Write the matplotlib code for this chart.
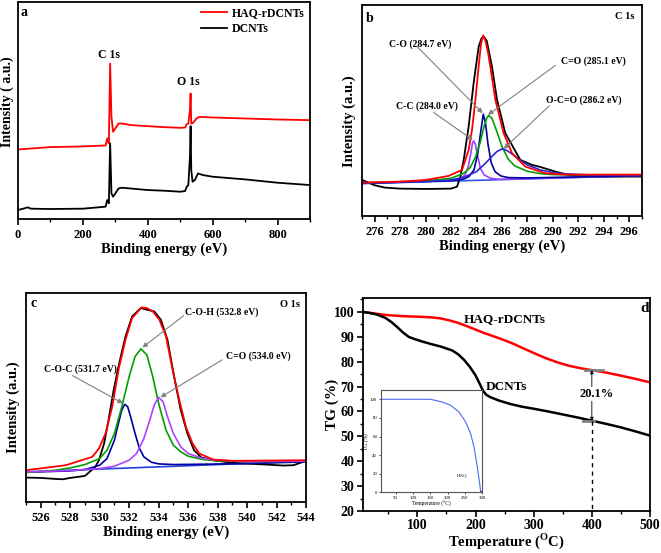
import numpy as np
import matplotlib
matplotlib.use("Agg")
import matplotlib.pyplot as plt
from matplotlib.ticker import MultipleLocator

plt.rcParams['font.family'] = ['Liberation Serif', 'DejaVu Serif']
plt.rcParams['font.weight'] = 'bold'
plt.rcParams['axes.labelweight'] = 'bold'
plt.rcParams['mathtext.fontset'] = 'custom'
plt.rcParams['mathtext.rm'] = 'Liberation Serif:bold'
plt.rcParams['mathtext.bf'] = 'Liberation Serif:bold'

# ---- panel a: survey spectra ----
survey_red_x = [0, 100, 200, 270, 275, 280, 284, 288, 293, 300, 310, 320, 350, 400, 450, 500,
                515, 520, 525, 530, 532, 534, 540, 550, 560, 600, 700, 800, 900]
survey_red_y = [209, 216, 218, 221, 242, 227, 467, 307, 262, 272, 287, 287, 282, 279, 276, 274,
                275, 285, 287, 327, 377, 287, 289, 302, 307, 305, 302, 299, 297]
survey_blk_x = [0, 20, 30, 40, 100, 200, 270, 275, 280, 284, 288, 293, 300, 310, 320, 400, 450,
                500, 515, 520, 525, 530, 532, 534, 538, 545, 555, 570, 600, 700, 800, 900]
survey_blk_y = [27, 32, 35, 31, 30, 31, 37, 57, 47, 227, 77, 67, 77, 92, 94, 87, 85,
                82, 84, 97, 102, 187, 279, 147, 112, 117, 137, 132, 127, 119, 109, 102]

# ---- panel b: C 1s ----
c1s_raw_x = [275, 276, 276.8, 278, 280, 282, 282.47, 282.73, 282.99, 283.38, 283.77, 284.17,
             284.4, 284.59, 284.8, 285.21, 285.61, 286.26, 287.44, 288.36, 289.0, 290.19,
             291.24, 292.5, 294, 297]
c1s_raw_y = [108, 92, 85, 82, 81, 82, 88, 118, 168, 268, 398, 508,
             533, 536, 525, 448, 348, 248, 168, 153, 147, 133,
             123, 120, 118, 118]
c1s_fit_x = [275, 278, 280, 281.8, 282.86, 283.12, 283.38, 283.65, 283.91, 284.17, 284.35, 284.51,
             284.7, 284.9, 285.08, 285.48, 286.13, 286.79, 287.83, 289.4, 291, 297]
c1s_fit_y = [100, 103, 108, 120, 138, 168, 198, 260, 348, 450, 515, 541,
             525, 490, 448, 348, 248, 188, 148, 128, 124, 124]
c1s_base_x = [275, 297]
c1s_base_y = [97, 121]
cc_x = [275, 280, 282, 282.7, 283.1, 283.35, 283.55, 283.68, 283.77, 283.9, 284.1, 284.3, 284.6,
        285.1, 285.8, 288, 297]
cc_y = [99, 104, 107, 111, 123, 148, 188, 218, 225, 216, 178, 143, 123, 113, 110, 112, 121]
co_x = [275, 282, 283, 283.4, 283.8, 284.1, 284.35, 284.53, 284.7, 284.9, 285.15, 285.45, 285.9,
        286.5, 288, 297]
co_y = [98, 106, 111, 118, 138, 188, 258, 305, 280, 215, 160, 133, 120, 115, 114, 121]
cdo_x = [275, 280, 282, 283, 283.5, 283.9, 284.3, 284.6, 284.8, 284.95, 285.2, 285.55, 286, 286.5,
         287, 288, 289, 290, 292, 297]
cdo_y = [99, 105, 113, 128, 145, 175, 222, 270, 293, 301, 293, 258, 208, 170,
         150, 134, 127, 124, 123, 122]
ocdo_x = [275, 280, 282, 283, 284, 284.7, 285.2, 285.6, 286.0, 286.4, 286.9, 287.4, 288, 289, 290,
          291, 293, 297]
ocdo_y = [98, 103, 108, 116, 133, 158, 178, 193, 201, 196, 183, 168, 153, 138, 130,
          126, 123, 122]

# ---- panel c: O 1s ----
o1s_raw_x = [525, 526, 527, 527.5, 528, 529, 529.7, 529.95, 530.3, 530.6, 530.95, 531.3, 531.75,
             532.2, 532.8, 533.2, 533.7, 534.15, 534.6, 535.05, 535.5, 535.95, 536.4, 536.9,
             537.7, 539, 541.3, 542.45, 543.15, 544]
o1s_raw_y = [73, 72, 69, 68, 72, 78, 105, 125, 175, 245, 335, 410, 495,
             555, 580, 575, 570, 545, 485, 375, 275, 205, 155, 133,
             125, 117, 112, 109, 110, 123]
o1s_fit_x = [525, 527.7, 529.5, 529.95, 530.4, 530.85, 531.3, 531.75, 532.2, 532.85, 533.2, 533.6,
             534.05, 534.5, 534.95, 535.4, 535.85, 536.3, 536.75, 537.7, 539, 544]
o1s_fit_y = [95, 110, 135, 160, 205, 285, 400, 485, 550, 582, 580, 570,
             545, 495, 395, 305, 225, 175, 145, 127, 123, 125]
o1s_base_x = [525, 544]
o1s_base_y = [90, 122]
coc_x = [525, 528, 529, 530, 530.5, 531, 531.3, 531.5, 531.7, 531.9, 532.1, 532.4, 532.7, 533,
         533.5, 534, 535, 537, 540, 544]
coc_y = [89, 93, 97, 110, 130, 185, 240, 275, 292, 285, 255, 205, 160, 135,
         119, 114, 112, 113, 115, 120]
coh_x = [525, 527, 528, 529, 530, 530.5, 531, 531.5, 532, 532.4, 532.8, 533.2, 533.6, 534,
         534.5, 535, 535.5, 536, 537, 538, 540, 544]
coh_y = [88, 95, 102, 112, 130, 155, 205, 285, 375, 435, 458, 440, 375, 295,
         215, 170, 150, 137, 127, 123, 121, 122]
oco_x = [525, 528, 530, 531, 532, 532.5, 533, 533.4, 533.7, 534, 534.3, 534.6, 535, 535.5,
         536, 537, 538, 540, 544]
oco_y = [90, 94, 100, 107, 125, 145, 190, 245, 290, 313, 300, 255, 205, 165,
         145, 130, 125, 121, 122]

# ---- panel d: TG ----
tg_red_t = [6, 20, 35, 50, 75, 100, 125, 140, 155, 170, 185, 200, 215, 230, 250, 265, 280, 300,
            320, 340, 360, 380, 400, 425, 450, 475, 500]
tg_red_w = [100, 99.6, 99.1, 98.7, 98.3, 98.1, 97.8, 97.4, 96.6, 95.6, 94.3, 92.9, 91.5, 90.3,
            88.6, 87.2, 85.6, 83.5, 81.5, 79.8, 78.4, 77.4, 76.6, 75.6, 74.4, 73.1, 71.7]
tg_blk_t = [6, 15, 30, 45, 55, 65, 75, 85, 95, 110, 125, 140, 160, 170, 180, 190, 200, 207, 213,
            218, 225, 240, 260, 280, 300, 325, 350, 375, 400, 425, 450, 475, 500]
tg_blk_w = [100, 99.7, 99.0, 97.6, 96.0, 94.0, 91.8, 90.0, 89.1, 88.0, 87.0, 86.1, 84.5, 83.0,
            80.8, 78.0, 74.5, 71.2, 68.3, 66.8, 65.8, 64.4, 63.0, 61.9, 61.1, 60.0, 58.8, 57.6,
            56.3, 55.0, 53.6, 52.0, 50.3]
haq_t = [10, 151, 184.6, 208.6, 232.6, 251.9, 266.3, 275.9, 285.6, 292.3, 295.2, 300]
haq_w = [100, 100, 97.1, 93.6, 86.4, 75.7, 63.2, 48.9, 27.4, 9.6, 0.6, 0]

W, H = 661, 553
fig = plt.figure(figsize=(W / 100, H / 100), dpi=100)


def box(l, t, r, b):
    return [l / W, 1 - b / H, (r - l) / W, (b - t) / H]


AX = 10.5
GRAY = '#808080'


def style(ax):
    for s in ax.spines.values():
        s.set_linewidth(1.3)
    ax.tick_params(axis='x', which='major', direction='out', length=4, width=1.2, labelsize=9)
    ax.tick_params(axis='x', which='minor', direction='out', length=2.5, width=1.0)
    ax.set_yticks([])


def arrow(ax, text_xy, tip, head=True):
    ax.annotate('', xy=tip, xytext=text_xy,
                arrowprops=dict(arrowstyle='-|>' if head else '-', color=GRAY, lw=0.8,
                                mutation_scale=7, shrinkA=0, shrinkB=0))


# panel a
ax = fig.add_axes(box(18, 2, 310, 219))
ax.plot(survey_red_x, survey_red_y, color='#ff0000', lw=1.3, label='HAQ-rDCNTs')
ax.plot(survey_blk_x, survey_blk_y, color='black', lw=1.3, label='DCNTs')
ax.set_xlim(0, 900)
ax.set_ylim(0, 652)
ax.xaxis.set_major_locator(MultipleLocator(200))
ax.xaxis.set_minor_locator(MultipleLocator(100))
style(ax)
ax.set_xlabel('Binding energy (eV)', fontsize=AX, labelpad=1)
ax.set_ylabel('Intensity ( a.u.)', fontsize=10)
ax.yaxis.set_label_coords(-0.012, 0.54)
ax.legend(loc='upper right', frameon=False, fontsize=8.5, handlelength=2.2,
          borderaxespad=0.05, labelspacing=0.3, handletextpad=0.4)
ax.text(8, 619, 'a', fontsize=10, va='center')
ax.text(281, 492, 'C 1s', fontsize=8.5, ha='center', va='center')
ax.text(524, 412, 'O 1s', fontsize=8.5, ha='center', va='center')

# panel b
ax = fig.add_axes(box(362, 5, 642, 216))
ax.plot(c1s_base_x, c1s_base_y, color='#3050f0', lw=1.2)
ax.plot(c1s_raw_x, c1s_raw_y, color='black', lw=1.3)
ax.plot(cc_x, cc_y, color='#a040ff', lw=1.2)
ax.plot(co_x, co_y, color='#0000a0', lw=1.2)
ax.plot(cdo_x, cdo_y, color='#00a000', lw=1.2)
ax.plot(ocdo_x, ocdo_y, color='#2828d0', lw=1.2)
ax.plot(c1s_fit_x, c1s_fit_y, color='#ff0000', lw=1.3)
ax.set_xlim(275, 297)
ax.set_ylim(0, 632)
ax.xaxis.set_major_locator(MultipleLocator(2))
ax.xaxis.set_minor_locator(MultipleLocator(1))
style(ax)
ax.set_xlabel('Binding energy (eV)', fontsize=AX, labelpad=1)
ax.set_ylabel('Intensity (a.u.)', fontsize=AX)
ax.yaxis.set_label_coords(-0.022, 0.45)
ax.text(275.3, 593, 'b', fontsize=10, va='center')
ax.text(296.4, 598, 'C 1s', fontsize=7.5, ha='right', va='center')
ax.text(279.56, 515, 'C-O (284.7 eV)', fontsize=7, ha='center', va='center')
ax.text(293.15, 463, 'C=O (285.1 eV)', fontsize=7, ha='center', va='center')
ax.text(280.11, 330, 'C-C (284.0 eV)', fontsize=7, ha='center', va='center')
ax.text(292.41, 348, 'O-C=O (286.2 eV)', fontsize=7, ha='center', va='center')
arrow(ax, (279.32, 508), (284.48, 308))
arrow(ax, (290.19, 451), (284.9, 303))
arrow(ax, (280.63, 310), (283.70, 228))
arrow(ax, (289.72, 330), (286.13, 201))

# panel c
ax = fig.add_axes(box(26, 293, 306, 502))
ax.plot(o1s_base_x, o1s_base_y, color='#2040e0', lw=1.2)
ax.plot(o1s_raw_x, o1s_raw_y, color='black', lw=1.3)
ax.plot(coc_x, coc_y, color='#0000a0', lw=1.2)
ax.plot(coh_x, coh_y, color='#00a000', lw=1.2)
ax.plot(oco_x, oco_y, color='#b040ff', lw=1.2)
ax.plot(o1s_fit_x, o1s_fit_y, color='#ff0000', lw=1.3)
ax.set_xlim(525, 544)
ax.set_ylim(0, 625)
ax.xaxis.set_major_locator(MultipleLocator(2))
ax.xaxis.set_minor_locator(MultipleLocator(1))
style(ax)
ax.set_xlabel('Binding energy (eV)', fontsize=AX, labelpad=1)
ax.set_ylabel('Intensity (a.u.)', fontsize=AX)
ax.yaxis.set_label_coords(-0.022, 0.455)
ax.text(525.3, 595, 'c', fontsize=10, va='center')
ax.text(543.6, 590, 'O 1s', fontsize=7.5, ha='right', va='center')
ax.text(538.31, 567, 'C-O-H (532.8 eV)', fontsize=7, ha='center', va='center')
ax.text(540.79, 435, 'C=O (534.0 eV)', fontsize=7, ha='center', va='center')
ax.text(528.69, 397, 'C-O-C (531.7 eV)', fontsize=7, ha='center', va='center')
arrow(ax, (535.69, 557), (532.9, 462))
arrow(ax, (538.31, 425), (534.12, 313))
arrow(ax, (528.16, 378), (531.58, 295))

# panel d
ax = fig.add_axes(box(362.7, 298, 650, 511))
ax.plot(tg_red_t, tg_red_w, color='#ff0000', lw=1.8)
ax.plot(tg_blk_t, tg_blk_w, color='black', lw=1.8)
ax.set_xlim(6, 500)
ax.set_ylim(20, 105.6)
ax.xaxis.set_major_locator(MultipleLocator(100))
ax.xaxis.set_minor_locator(MultipleLocator(50))
ax.yaxis.set_major_locator(MultipleLocator(10))
ax.yaxis.set_minor_locator(MultipleLocator(5))
for s in ax.spines.values():
    s.set_linewidth(1.3)
ax.tick_params(which='major', direction='out', length=4, width=1.2, labelsize=10, pad=2)
ax.tick_params(which='minor', direction='out', length=2.5, width=1.0)
ax.set_xlabel('Temperature ($^{\\mathbf{O}}$C)', fontsize=10.5, labelpad=-1)
ax.set_ylabel('TG (%)', fontsize=11)
ax.yaxis.set_label_coords(-0.082, 0.5)
ax.plot([388.8, 419.6], [76.8, 76.8], color=GRAY, lw=2)
ax.plot([385, 403], [56, 56], color=GRAY, lw=2)
ax.annotate('', xy=(400, 76.6), xytext=(400, 56.2),
            arrowprops=dict(arrowstyle='<|-|>', color='black', lw=0.6, mutation_scale=5,
                            shrinkA=0, shrinkB=0))
ax.plot([400, 400], [56, 20], color='black', lw=1, ls=(0, (3, 3)))
ax.text(408, 67, '20.1%', fontsize=9, ha='center', va='center',
        bbox=dict(facecolor='white', edgecolor='none', pad=0.5))
ax.text(251, 97.3, 'HAQ-rDCNTs', fontsize=9.5, ha='center', va='center')
ax.text(253, 69.8, 'DCNTs', fontsize=9.5, ha='center', va='center')
ax.text(490, 101.3, 'd', fontsize=11, ha='center', va='center')

# inset
ins = fig.add_axes(box(380.7, 390, 482.3, 492.3))
ins.plot(haq_t, haq_w, color='#4a6cf0', lw=0.8)
ins.plot([300], [0], marker='s', ms=1.5, color='#2040e0')
ins.set_xlim(7, 300)
ins.set_ylim(0, 110)
ins.set_xticks([50, 100, 150, 200, 250, 300])
ins.set_yticks([0, 20, 40, 60, 80, 100])
for s in ins.spines.values():
    s.set_linewidth(0.8)
    s.set_color('#555555')
ins.tick_params(direction='out', length=1.5, width=0.5, labelsize=3.5, pad=1)
for lab in ins.get_xticklabels() + ins.get_yticklabels():
    lab.set_fontweight('normal')
ins.set_xlabel('Temperature (°C)', fontsize=4, fontweight='normal', labelpad=1)
ins.set_ylabel('TG (%)', fontsize=4, fontweight='normal', labelpad=1)
ins.text(242, 18.5, 'HAQ', fontsize=3.5, fontweight='normal', ha='center', va='center')

fig.savefig('out.png', dpi=100)
